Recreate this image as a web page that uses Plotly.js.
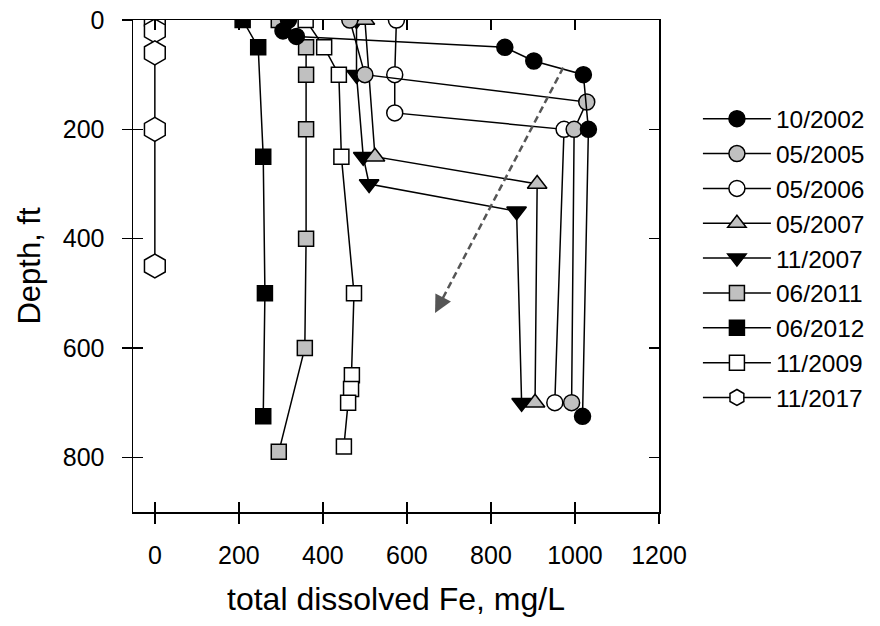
<!DOCTYPE html>
<html>
<head>
<meta charset="utf-8">
<script src="https://cdn.plot.ly/plotly-3.0.1.min.js"></script>
<style>html,body{margin:0;padding:0;background:#fff;}#chart{width:880px;height:626px;}</style>
</head>
<body>
<div id="chart"></div>
<script>
// ---- data (Fe in mg/L, depth in ft) ----
const seriesNames = ['10/2002','05/2005','05/2006','05/2007','11/2007','06/2011','06/2012','11/2009','11/2017'];

const fe_2002_10 = [318, 305, 337, 833, 902, 1020, 1032, 1018];
const dp_2002_10 = [0, 20, 30, 50, 75, 100, 200, 725];

const fe_2005_05 = [464, 500, 1028, 998, 992];
const dp_2005_05 = [0, 100, 150, 200, 700];

const fe_2006_05 = [575, 571, 571, 974, 952];
const dp_2006_05 = [0, 100, 170, 200, 700];

const fe_2007_05 = [500, 524, 910, 905];
const dp_2007_05 = [0, 250, 300, 700];

const fe_2007_11 = [480, 480, 496, 510, 861, 873];
const dp_2007_11 = [0, 100, 250, 300, 350, 700];

const fe_2011_06 = [295, 360, 360, 360, 360, 357, 295];
const dp_2011_06 = [0, 50, 100, 200, 400, 600, 790];

const fe_2012_06 = [209, 246, 258, 262, 258];
const dp_2012_06 = [0, 50, 250, 500, 725];

const fe_2009_11 = [359, 403, 438, 444, 474, 469, 467, 460, 450];
const dp_2009_11 = [0, 50, 100, 250, 500, 650, 675, 700, 780];

const fe_2017_11 = [0, 0, 0, 0, 0];
const dp_2017_11 = [0, 20, 60, 200, 450];

const xTicks = [0, 200, 400, 600, 800, 1000, 1200];
const yTicks = [0, 200, 400, 600, 800];

// trend arrow (data coords): start -> end
const arrowStart = {fe: 972, depth: 87};
const arrowEnd = {fe: 667, depth: 536};

// ---- styles ----
const GREY = '#c0c0c0';
const styles = [
  {symbol: 'circle', color: '#000000', size: 16},
  {symbol: 'circle', color: GREY, size: 16},
  {symbol: 'circle', color: '#ffffff', size: 16},
  {symbol: 'triangle-up', color: GREY, size: 17},
  {symbol: 'triangle-down', color: '#000000', size: 17},
  {symbol: 'square', color: GREY, size: 15},
  {symbol: 'square', color: '#000000', size: 15},
  {symbol: 'square', color: '#ffffff', size: 15},
  {symbol: 'hexagon', color: '#ffffff', size: 24}
];
const xs = [fe_2002_10, fe_2005_05, fe_2006_05, fe_2007_05, fe_2007_11, fe_2011_06, fe_2012_06, fe_2009_11, fe_2017_11];
const ys = [dp_2002_10, dp_2005_05, dp_2006_05, dp_2007_05, dp_2007_11, dp_2011_06, dp_2012_06, dp_2009_11, dp_2017_11];

const traces = [];
for (let i = 0; i < seriesNames.length; i++) {
  traces.push({
    type: 'scatter', mode: 'lines+markers', name: seriesNames[i],
    x: xs[i], y: ys[i],
    line: {color: '#000', width: 1.5},
    marker: {symbol: styles[i].symbol, size: styles[i].size, color: styles[i].color,
             line: {color: '#000', width: 1.5}},
    legendrank: i + 1,
    hoverinfo: 'x+y+name'
  });
}
// draw in reverse so earlier series sit on top
const drawn = traces.slice().reverse();
// invisible trace to create the overlaid tick axes
drawn.push({type: 'scatter', x: [xTicks[0]], y: [yTicks[0]], xaxis: 'x2', yaxis: 'y2',
  mode: 'markers', marker: {opacity: 0}, showlegend: false, hoverinfo: 'skip'});

const FONT = 'Liberation Sans, Arial, sans-serif';
const xRange = [-52, 1200];
const yRange = [900, 0];

const layout = {
  width: 880, height: 626,
  margin: {l: 133, r: 221, t: 20, b: 114, autoexpand: false},
  paper_bgcolor: '#fff', plot_bgcolor: '#fff',
  font: {family: FONT, size: 25, color: '#000'},
  showlegend: true,
  legend: {x: 1.074, y: 0.845, xanchor: 'left', yanchor: 'top',
           font: {family: FONT, size: 24.5, color: '#000'},
           itemwidth: 68, tracegroupgap: 0, bgcolor: 'rgba(0,0,0,0)'},
  xaxis: {range: xRange, tickvals: xTicks, ticks: 'outside', ticklen: 10, tickwidth: 1.5,
          tickcolor: '#000', showline: true, linewidth: 1.5, linecolor: '#000', mirror: true,
          showgrid: false, zeroline: false, ticklabelstandoff: 10,
          tickfont: {family: FONT, size: 25},
          title: {text: 'total dissolved Fe, mg/L', font: {family: FONT, size: 32}, standoff: 20}},
  yaxis: {range: yRange, tickvals: yTicks, ticks: 'outside', ticklen: 10, tickwidth: 1.5,
          tickcolor: '#000', showline: true, linewidth: 1.5, linecolor: '#000', mirror: true,
          showgrid: false, zeroline: false, ticklabelstandoff: 12,
          tickfont: {family: FONT, size: 25},
          title: {text: 'Depth, ft', font: {family: FONT, size: 31}, standoff: 13}},
  xaxis2: {overlaying: 'x', range: xRange, tickvals: xTicks, ticks: 'inside', ticklen: 10,
           tickwidth: 1.5, tickcolor: '#000', mirror: 'ticks', showticklabels: false,
           showgrid: false, zeroline: false, showline: false},
  yaxis2: {overlaying: 'y', range: yRange, tickvals: yTicks, ticks: 'inside', ticklen: 10,
           tickwidth: 1.5, tickcolor: '#000', mirror: 'ticks', showticklabels: false,
           showgrid: false, zeroline: false, showline: false},
  shapes: [{type: 'line', xref: 'x', yref: 'y',
            x0: arrowStart.fe, y0: arrowStart.depth,
            x1: arrowStart.fe + (arrowEnd.fe - arrowStart.fe) * 0.96,
            y1: arrowStart.depth + (arrowEnd.depth - arrowStart.depth) * 0.96,
            line: {color: '#555555', width: 2.5, dash: '7px,4px'}}],
  annotations: [{x: arrowEnd.fe, y: arrowEnd.depth, xref: 'x', yref: 'y',
                 ax: arrowStart.fe + (arrowEnd.fe - arrowStart.fe) * 0.93,
                 ay: arrowStart.depth + (arrowEnd.depth - arrowStart.depth) * 0.93,
                 axref: 'x', ayref: 'y', text: '', showarrow: true,
                 arrowhead: 2, arrowsize: 1.4, arrowwidth: 2.5, arrowcolor: '#555555'}]
};

Plotly.newPlot('chart', drawn, layout, {staticPlot: true, displayModeBar: false});
</script>
</body>
</html>
